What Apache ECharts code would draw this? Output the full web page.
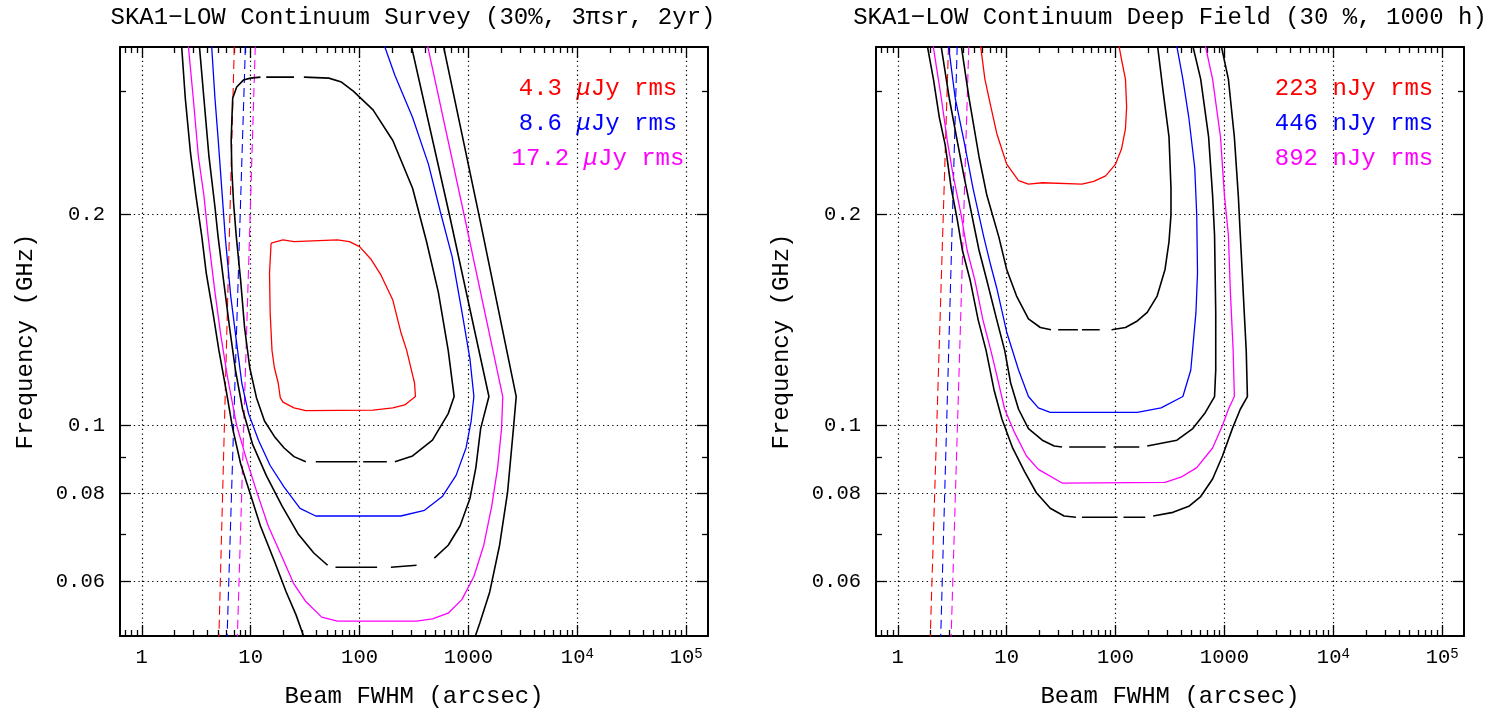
<!DOCTYPE html>
<html><head><meta charset="utf-8">
<script src="https://cdn.jsdelivr.net/npm/echarts@6/dist/echarts.min.js"></script>
<style>html,body{margin:0;padding:0;background:#fff}#c{width:1497px;height:713px}</style>
</head><body><div id="c"></div>
<script>
// ---------------- DATA (x: beam FWHM in arcsec, y: frequency in GHz) ----------------
const titleSurvey = 'SKA1\u2212LOW Continuum Survey (30%, 3\u03c0sr, 2yr)';
const titleDeep = 'SKA1\u2212LOW Continuum Deep Field (30 %, 1000 h)';
const xName = 'Beam FWHM (arcsec)';
const yName = 'Frequency (GHz)';
const legendSurvey = ['4.3 \u03bcJy rms', '8.6 \u03bcJy rms', '17.2 \u03bcJy rms'];
const legendDeep = ['223 nJy rms', '446 nJy rms', '892 nJy rms'];

const xRange = [0.631, 158489];
const yRange = [0.0501, 0.3467];
const xMajorTicks = [1, 10, 100, 1000, 10000, 100000];
const xMinorTicks = [0.7,0.8,0.9,2,3,4,5,6,7,8,9,20,30,40,50,60,70,80,90,200,300,400,500,600,700,800,900,
  2000,3000,4000,5000,6000,7000,8000,9000,20000,30000,40000,50000,60000,70000,80000,90000];
const yMajorTicks = [0.06, 0.08, 0.1, 0.2];
const yMinorTicks = [0.07, 0.09, 0.3];

// --- Survey panel contours ---
const surveyOuterBlack = [[2.31,0.352],[2.51,0.293],[2.80,0.245],[3.14,0.213],[3.56,0.186],[3.91,0.165],[4.50,0.145],[5.11,0.128],[5.94,0.1125],[6.84,0.099],[8.09,0.0882],[9.97,0.0797],[12.3,0.0719],[16.5,0.0641],[21.2,0.0579],[26.1,0.0537],[31.6,0.0494],
  null,
  [1122,0.0494],[1272,0.0523],[1569,0.0579],[1932,0.0675],[2285,0.0802],[2589,0.099],[2746,0.110],[1272,0.197],[580,0.352]];
const surveyMagenta = [[2.66,0.352],[2.97,0.293],[3.31,0.242],[3.72,0.213],[4.07,0.186],[4.70,0.155],[5.32,0.1345],[6.14,0.117],[7.44,0.1],[9.17,0.0894],[11.3,0.0807],[14.5,0.0719],[18.7,0.0658],[25.0,0.0594],[32.1,0.0561],[44.9,0.0533],[62.7,0.0526],[334,0.0526],[467,0.053],[652,0.054],[873,0.0565],[1122,0.0609],[1383,0.0675],[1635,0.0767],[1854,0.0871],[2015,0.099],[2066,0.110],[911,0.2],[415,0.352]];
const surveyBlackMid = [[3.36,0.352],[3.72,0.293],[4.14,0.242],[4.70,0.205],[5.02,0.186],[5.64,0.161],[6.40,0.138],[7.25,0.120],[8.43,0.1055],[10.4,0.0941],[13.9,0.0849],[19.5,0.0767],[27.2,0.0701],[38.0,0.0658],[50.9,0.0632],
  null, [60.1,0.0628],[145,0.0628],
  null, [194,0.0628],[334,0.0632],
  null, [486,0.0647],[652,0.0675],[837,0.0719],[1032,0.0787],[1170,0.0871],[1294,0.099],[1542,0.110],[668,0.2],[294,0.352]];
const surveyBlue = [[4.36,0.352],[4.70,0.293],[5.02,0.257],[5.84,0.186],[6.56,0.153],[7.44,0.131],[8.29,0.115],[9.56,0.104],[11.8,0.0953],[15.1,0.0877],[20.3,0.0817],[28.4,0.0762],[39.6,0.0743],[239,0.0743],[395,0.0757],[575,0.0792],[770,0.0849],[950,0.0929],[1059,0.1015],[1122,0.110],[1032,0.1245],[873,0.145],[709,0.174],[551,0.202],[429,0.236],[307,0.275],[211,0.316],[165,0.352]];
const surveyBlackInner = [[6.73,0.275],[6.84,0.293],[7.44,0.304],[8.57,0.311],[9.97,0.313],[12.3,0.314],
  null, [13.9,0.314],[25.0,0.314],
  null, [30.8,0.314],[52.2,0.313],[68.2,0.309],[87.6,0.300],[133,0.282],[202,0.255],[307,0.218],[412,0.183],[529,0.155],[652,0.128],[739,0.110],[652,0.104],[467,0.0953],[307,0.0905],[211,0.0888],
  null, [178,0.0888],[108,0.0888],
  null, [95.3,0.0888],[39.6,0.0888],
  null, [32.1,0.0888],[25.0,0.0903],[20.3,0.0929],[16.5,0.0965],[13.4,0.1015],[11.3,0.1096],[9.80,0.121],[8.79,0.138],[8.09,0.161],[7.38,0.186],[6.97,0.2075],[6.73,0.230],[6.62,0.255],[6.73,0.275]];
const surveyRed = [[15.4,0.182],[19.8,0.184],[25.0,0.183],[62.7,0.184],[80.6,0.183],[100,0.180],[128,0.1725],[157,0.164],[202,0.151],[239,0.136],[271,0.128],[307,0.118],[320,0.115],[326,0.110],[260,0.107],[202,0.106],[133,0.1052],[32.1,0.105],[25.0,0.106],[19.8,0.108],[18.7,0.1096],[17.9,0.115],[16.5,0.121],[15.7,0.128],[15.1,0.145],[14.9,0.165],[15.4,0.182]];
const surveyRedLimit = [[5.09,0.049],[7.09,0.352]];
const surveyBlueLimit = [[6.05,0.049],[8.97,0.352]];
const surveyMagentaLimit = [[7.52,0.049],[11.05,0.352]];

// --- Deep field panel contours ---
const deepOuterBlack = [[1.843,0.352],[2.125,0.312],[2.409,0.275],[2.732,0.251],[3.097,0.218],[3.512,0.197],[3.914,0.178],[4.629,0.161],[5.473,0.1415],[6.47,0.128],[7.648,0.1125],[9.046,0.1022],[11.34,0.0929],[14.57,0.0860],[18.74,0.0802],[25.12,0.0762],[33.68,0.0743],[43.29,0.0740],
  null, [49.1,0.0740],[104.3,0.0740],
  null, [118.2,0.0740],[187.4,0.0740],
  null, [221.6,0.0743],[336.8,0.0752],[470.8,0.0767],[605.1,0.0792],[778.2,0.0839],[959,0.0905],[1182,0.099],[1398,0.1055],[1625,0.110],[1585,0.128],[1520,0.145],[1457,0.165],[1398,0.187],[1340,0.213],[1233,0.258],[1087,0.312],[920,0.352]];
const deepMagenta = [[2.089,0.352],[2.512,0.293],[2.848,0.255],[3.229,0.227],[3.819,0.1997],[4.329,0.178],[5.118,0.161],[6.051,0.1415],[7.154,0.128],[8.112,0.118],[9.59,0.1055],[11.82,0.0977],[15.2,0.0905],[19.54,0.0866],[32.29,0.0828],[284.7,0.0830],[398.1,0.0844],[556.6,0.0871],[778.2,0.0929],[959,0.1],[1087,0.1055],[1233,0.110],[1202,0.128],[1134,0.155],[1087,0.187],[1000,0.213],[920,0.258],[778,0.312],[658,0.352]];
const deepBlackMid = [[2.47,0.352],[2.97,0.293],[3.512,0.255],[4.049,0.227],[4.786,0.1997],[5.567,0.178],[6.579,0.161],[8.112,0.1415],[9.59,0.128],[10.88,0.115],[12.86,0.1055],[15.85,0.099],[21.25,0.0953],[27.32,0.0935],[32.29,0.0932],
  null, [37.54,0.0932],[81.1,0.0932],
  null, [95.9,0.0932],[165.2,0.0932],
  null, [195.4,0.0935],[366.1,0.0953],[511.9,0.099],[658,0.104],[811.2,0.110],[831.8,0.120],[831.8,0.145],[811.2,0.187],[778.2,0.213],[715.5,0.258],[605.1,0.312],[503.2,0.352]];
const deepBlue = [[2.896,0.352],[3.368,0.293],[4.049,0.255],[4.909,0.218],[6.153,0.186],[7.154,0.169],[8.112,0.157],[10.0,0.136],[12.86,0.120],[15.85,0.110],[19.54,0.106],[25.12,0.1044],[158.5,0.1044],[261.9,0.106],[415.2,0.110],[490.9,0.120],[547.3,0.145],[565.9,0.165],[556.6,0.1997],[533.7,0.233],[470.8,0.275],[415.2,0.312],[360.0,0.352]];
const deepBlackInner = [[3.787,0.352],[4.512,0.293],[5.567,0.242],[6.579,0.213],[8.459,0.186],[10.0,0.167],[12.33,0.153],[15.85,0.142],[20.38,0.138],[25.54,0.137],
  null, [29.7,0.137],[45.1,0.137],
  null, [49.1,0.137],[71.5,0.137],
  null, [91.9,0.137],[123.3,0.138],[158.5,0.141],[195.4,0.145],[240.9,0.153],[284.7,0.167],[309.7,0.183],[322.9,0.1997],[322.9,0.218],[309.7,0.258],[273.2,0.300],[240.9,0.352]];
const deepRed = [[5.706,0.352],[6.31,0.312],[7.154,0.285],[8.112,0.261],[10.0,0.236],[12.86,0.2235],[15.85,0.221],[21.25,0.222],[49.1,0.221],[63.1,0.223],[81.1,0.227],[100,0.236],[113.4,0.248],[123.3,0.265],[126.4,0.285],[123.3,0.312],[113.4,0.333],[106.0,0.352]];
const deepRedLimit = [[1.98,0.049],[2.93,0.352]];
const deepBlueLimit = [[2.47,0.049],[3.52,0.352]];
const deepMagentaLimit = [[3.08,0.049],[4.50,0.352]];

// ---------------- CHART ----------------
const FONT = 'Liberation Mono';
const BLACK = '#000000', RED = '#ff0000', BLUE = '#0000ff', MAGENTA = '#ff00ff';

function fmtX(v) {
  const e = Math.round(Math.log10(v));
  return e < 4 ? String(Math.round(v)) : '10{s|' + e + '}';
}
function fmtY(v) { return String(parseFloat((+v).toPrecision(3))); }

function makeAxes(gi) {
  const common = { type: 'log', logBase: 10, gridIndex: gi };
  const tickLine = { color: BLACK, width: 1.3 };
  const frame = { show: true, onZero: false, lineStyle: { color: BLACK, width: 2 } };
  const x = [
    Object.assign({}, common, {
      position: 'bottom', min: xRange[0], max: xRange[1],
      name: xName, nameLocation: 'middle', nameGap: 49,
      nameTextStyle: { fontFamily: FONT, fontSize: 24, color: BLACK },
      axisLine: frame,
      axisTick: { show: true, inside: true, length: 11, customValues: xMajorTicks, lineStyle: tickLine },
      axisLabel: { show: true, customValues: xMajorTicks, margin: 11, fontFamily: FONT, fontSize: 20.5, color: BLACK,
        formatter: fmtX, rich: { s: { fontFamily: FONT, fontSize: 14, color: BLACK, verticalAlign: 'top', lineHeight: 14 } } },
      splitLine: { show: true, lineStyle: { color: BLACK, width: 1.2, type: [1.3, 3.3] } },
      minorTick: { show: false }, minorSplitLine: { show: false }
    }),
    Object.assign({}, common, {
      position: 'bottom', min: xRange[0], max: xRange[1],
      axisLine: { show: false }, axisLabel: { show: false }, splitLine: { show: false },
      axisTick: { show: true, inside: true, length: 6, customValues: xMinorTicks, lineStyle: tickLine }
    }),
    Object.assign({}, common, {
      position: 'top', min: xRange[0], max: xRange[1],
      axisLine: frame, axisLabel: { show: false }, splitLine: { show: false },
      axisTick: { show: true, inside: true, length: 11, customValues: xMajorTicks, lineStyle: tickLine }
    }),
    Object.assign({}, common, {
      position: 'top', min: xRange[0], max: xRange[1],
      axisLine: { show: false }, axisLabel: { show: false }, splitLine: { show: false },
      axisTick: { show: true, inside: true, length: 6, customValues: xMinorTicks, lineStyle: tickLine }
    })
  ];
  const y = [
    Object.assign({}, common, {
      position: 'left', min: yRange[0], max: yRange[1],
      name: yName, nameLocation: 'middle', nameGap: 82,
      nameTextStyle: { fontFamily: FONT, fontSize: 24, color: BLACK },
      axisLine: frame,
      axisTick: { show: true, inside: true, length: 11, customValues: yMajorTicks, lineStyle: tickLine },
      axisLabel: { show: true, customValues: yMajorTicks, margin: 15, fontFamily: FONT, fontSize: 20.5, color: BLACK, formatter: fmtY },
      splitLine: { show: true, lineStyle: { color: BLACK, width: 1.2, type: [1.3, 3.3] } },
      minorTick: { show: false }, minorSplitLine: { show: false }
    }),
    Object.assign({}, common, {
      position: 'left', min: yRange[0], max: yRange[1],
      axisLine: { show: false }, axisLabel: { show: false }, splitLine: { show: false },
      axisTick: { show: true, inside: true, length: 6, customValues: yMinorTicks, lineStyle: tickLine }
    }),
    Object.assign({}, common, {
      position: 'right', min: yRange[0], max: yRange[1],
      axisLine: frame, axisLabel: { show: false }, splitLine: { show: false },
      axisTick: { show: true, inside: true, length: 11, customValues: yMajorTicks, lineStyle: tickLine }
    }),
    Object.assign({}, common, {
      position: 'right', min: yRange[0], max: yRange[1],
      axisLine: { show: false }, axisLabel: { show: false }, splitLine: { show: false },
      axisTick: { show: true, inside: true, length: 6, customValues: yMinorTicks, lineStyle: tickLine }
    })
  ];
  return { x, y };
}

function line(name, data, color, width, ai, dashed) {
  return {
    type: 'line', name, xAxisIndex: ai, yAxisIndex: ai,
    data: data.map(p => p ? p : ['-', '-']),
    symbol: 'none', showSymbol: false, connectNulls: false, clip: true, silent: true,
    lineStyle: { color, width, type: dashed ? [9, 5] : 'solid' },
    emphasis: { disabled: true }
  };
}

const a0 = makeAxes(0), a1 = makeAxes(1);

const series = [
  line('Survey limit 4.3', surveyRedLimit, RED, 1.1, 0, true),
  line('Survey limit 8.6', surveyBlueLimit, BLUE, 1.1, 0, true),
  line('Survey limit 17.2', surveyMagentaLimit, MAGENTA, 1.1, 0, true),
  line('Survey outer', surveyOuterBlack, BLACK, 1.6, 0),
  line('17.2 \u03bcJy rms', surveyMagenta, MAGENTA, 1.3, 0),
  line('Survey mid', surveyBlackMid, BLACK, 1.6, 0),
  line('8.6 \u03bcJy rms', surveyBlue, BLUE, 1.3, 0),
  line('Survey inner', surveyBlackInner, BLACK, 1.6, 0),
  line('4.3 \u03bcJy rms', surveyRed, RED, 1.3, 0),

  line('Deep limit 223', deepRedLimit, RED, 1.1, 4, true),
  line('Deep limit 446', deepBlueLimit, BLUE, 1.1, 4, true),
  line('Deep limit 892', deepMagentaLimit, MAGENTA, 1.1, 4, true),
  line('Deep outer', deepOuterBlack, BLACK, 1.6, 4),
  line('892 nJy rms', deepMagenta, MAGENTA, 1.3, 4),
  line('Deep mid', deepBlackMid, BLACK, 1.6, 4),
  line('446 nJy rms', deepBlue, BLUE, 1.3, 4),
  line('Deep inner', deepBlackInner, BLACK, 1.6, 4),
  line('223 nJy rms', deepRed, RED, 1.3, 4)
];

function legendText(items, colors, cx, y0, dy) {
  return items.map((t, i) => {
    const parts = t.split('\u03bc');
    const txt = parts.length > 1 ? '{n|' + parts[0] + '}{mu|\u03bc}{n|' + parts[1] + '}' : '{n|' + t + '}';
    const st = { fontFamily: FONT, fontSize: 24, fill: colors[i], color: colors[i] };
    return {
      type: 'text', x: cx, y: y0 + i * dy, silent: true,
      style: {
        text: txt, fill: colors[i], fontFamily: FONT, fontSize: 24,
        align: 'center', verticalAlign: 'middle', textAlign: 'center', textVerticalAlign: 'middle',
        rich: { n: st, mu: Object.assign({}, st, { fontStyle: 'italic' }) }
      }
    };
  });
}
function titleText(t, cx) {
  return { type: 'text', x: cx, y: 18, silent: true,
    style: { text: t, fill: BLACK, fontFamily: FONT, fontSize: 24, align: 'center', verticalAlign: 'middle', textAlign: 'center', textVerticalAlign: 'middle' } };
}
const lc = [RED, BLUE, MAGENTA];

const option = {
  animation: false,
  backgroundColor: '#ffffff',
  grid: [
    { left: 120, top: 47, width: 588, height: 589, outerBoundsMode: 'none', containLabel: false },
    { left: 876, top: 47, width: 588, height: 589, outerBoundsMode: 'none', containLabel: false }
  ],
  xAxis: a0.x.concat(a1.x),
  yAxis: a0.y.concat(a1.y),
  series,
  graphic: [
    titleText(titleSurvey, 413),
    titleText(titleDeep, 1170)
  ].concat(legendText(legendSurvey, lc, 598, 89, 35), legendText(legendDeep, lc, 1354, 89, 35))
};

const chart = echarts.init(document.getElementById('c'), null, { renderer: 'canvas' });
chart.setOption(option);
</script>
</body></html>
